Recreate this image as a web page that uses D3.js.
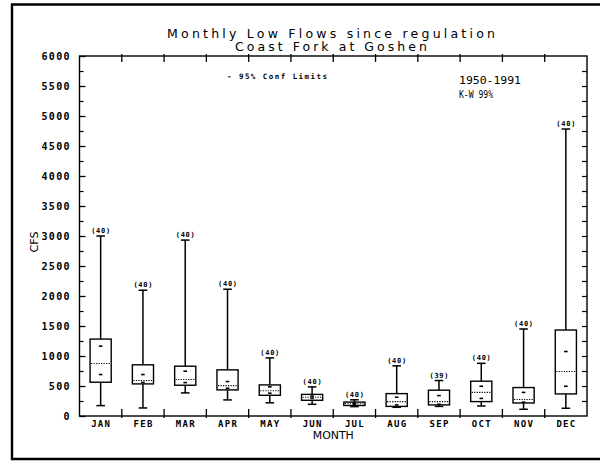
<!DOCTYPE html>
<html>
<head>
<meta charset="utf-8">
<script src="https://cdn.jsdelivr.net/npm/d3@7"></script>
<style>
  body { margin: 0; background: #fff; }
  svg text { fill: #000; }
</style>
</head>
<body>
<svg id="chart" width="600" height="461"></svg>
<script>
// Monthly low-flow statistics (cfs), Coast Fork at Goshen, 1950-1991
const months      = ["JAN", "FEB", "MAR", "APR", "MAY", "JUN", "JUL", "AUG", "SEP", "OCT", "NOV", "DEC"];
const counts      = [40, 40, 40, 40, 40, 40, 40, 40, 39, 40, 40, 40];
const whiskerLow  = [173, 134, 385, 268, 220, 195, 156, 145, 160, 167, 112, 129];
const q1          = [563, 535, 513, 435, 345, 262, 175, 160, 185, 240, 217, 368];
const medians     = [875, 591, 608, 507, 420, 313, 203, 240, 240, 393, 276, 741];
const q3          = [1282, 853, 830, 769, 518, 360, 232, 373, 430, 580, 474, 1433];
const whiskerHigh = [3000, 2096, 2932, 2113, 968, 485, 270, 836, 591, 878, 1450, 4783];
const confLow     = [691, 560, 557, 463, 380, 295, 190, 184, 195, 293, 230, 496];
const confHigh    = [1165, 691, 747, 574, 487, 330, 215, 313, 340, 496, 393, 1075];

const yLabelTicks = d3.range(0, 6001, 500);
const yMinorTicks = d3.range(250, 6000, 500);
const yRightTicks = d3.range(250, 6000, 250);

const titleLines = ["Monthly Low Flows since regulation", "Coast Fork at Goshen"];
const legendText = "- 95% Conf Limits";
const noteLines  = ["1950-1991", "K-W 99%"];

const svg = d3.select("#chart");
const plotL = 79.5, plotR = 587, plotT = 56, plotB = 416;

const x = d3.scaleBand().domain(months).range([plotL, plotR]).padding(0);
const y = d3.scaleLinear().domain([0, 6000]).range([plotB, plotT]);

const mono = "'DejaVu Sans Mono', monospace";
const sans = "'DejaVu Sans', sans-serif";

// page frame (open on the right)
svg.append("path")
  .attr("d", `M600,4.5 H12 V459 H600`)
  .attr("fill", "none").attr("stroke", "#000").attr("stroke-width", 2.4);

// plot frame
svg.append("rect")
  .attr("x", plotL).attr("y", plotT)
  .attr("width", plotR - plotL).attr("height", plotB - plotT)
  .attr("fill", "none").attr("stroke", "#000").attr("stroke-width", 1.4);

// left axis: labelled ticks every 500, minor ticks in between
const yAxisMajor = svg.append("g")
  .attr("transform", `translate(${plotL},0)`)
  .call(d3.axisLeft(y).tickValues(yLabelTicks).tickSize(-6).tickPadding(10).tickFormat(d3.format("d")));
yAxisMajor.select(".domain").remove();
yAxisMajor.selectAll("line").attr("stroke-width", 1.3);
yAxisMajor.selectAll("text")
  .attr("font-family", mono).attr("font-weight", "bold")
  .attr("font-size", 10).attr("letter-spacing", 1.3)
  .attr("dx", 1.3).attr("dy", "0.35em");

const yAxisMinor = svg.append("g")
  .attr("transform", `translate(${plotL},0)`)
  .call(d3.axisLeft(y).tickValues(yMinorTicks).tickSize(-4).tickFormat(""));
yAxisMinor.select(".domain").remove();
yAxisMinor.selectAll("line").attr("stroke-width", 1.2);

// right axis: inward ticks every 250
const yAxisRight = svg.append("g")
  .attr("transform", `translate(${plotR},0)`)
  .call(d3.axisRight(y).tickValues(yRightTicks).tickSize(-5).tickFormat(""));
yAxisRight.select(".domain").remove();
yAxisRight.selectAll("line").attr("stroke-width", 1.2);

// month boundary ticks on top and bottom edges
const edges = months.slice(1).map(m => x(m));
svg.append("g").selectAll("line").data(edges).join("line")
  .attr("x1", d => d).attr("x2", d => d)
  .attr("y1", plotT - 2).attr("y2", plotT + 6)
  .attr("stroke", "#000").attr("stroke-width", 1.3);
svg.append("g").selectAll("line").data(edges).join("line")
  .attr("x1", d => d).attr("x2", d => d)
  .attr("y1", plotB - 7).attr("y2", plotB + 2)
  .attr("stroke", "#000").attr("stroke-width", 1.3);

// month labels
svg.append("g").selectAll("text").data(months).join("text")
  .attr("x", d => x(d) + x.bandwidth() / 2 + 0.6)
  .attr("y", 426.5)
  .attr("text-anchor", "middle")
  .attr("font-family", mono).attr("font-weight", "bold")
  .attr("font-size", 9).attr("letter-spacing", 1.3)
  .text(d => d);

// axis titles
svg.append("text")
  .attr("x", (plotL + plotR) / 2).attr("y", 438.5)
  .attr("text-anchor", "middle")
  .attr("font-family", sans).attr("font-size", 10.5)
  .attr("textLength", 41).attr("lengthAdjust", "spacingAndGlyphs")
  .text("MONTH");

svg.append("text")
  .attr("transform", "translate(38,242) rotate(-90)")
  .attr("text-anchor", "middle")
  .attr("font-family", sans).attr("font-size", 10)
  .attr("textLength", 21).attr("lengthAdjust", "spacingAndGlyphs")
  .text("CFS");

// title
svg.append("text")
  .attr("x", 167).attr("y", 37.5)
  .attr("font-family", sans).attr("font-size", 12.5)
  .attr("textLength", 328).attr("lengthAdjust", "spacing")
  .text(titleLines[0]);
svg.append("text")
  .attr("x", 235).attr("y", 51)
  .attr("font-family", sans).attr("font-size", 12.5)
  .attr("textLength", 192).attr("lengthAdjust", "spacing")
  .text(titleLines[1]);

// legend and notes
svg.append("text")
  .attr("x", 227).attr("y", 78.5)
  .attr("font-family", mono).attr("font-weight", "bold").attr("font-size", 7.5)
  .attr("textLength", 100).attr("lengthAdjust", "spacing")
  .text(legendText);
svg.append("text")
  .attr("x", 459).attr("y", 84)
  .attr("font-family", mono).attr("font-size", 10)
  .attr("textLength", 62).attr("lengthAdjust", "spacingAndGlyphs")
  .text(noteLines[0]);
svg.append("text")
  .attr("x", 459).attr("y", 98)
  .attr("font-family", mono).attr("font-size", 10)
  .attr("textLength", 34).attr("lengthAdjust", "spacingAndGlyphs")
  .text(noteLines[1]);

// box plots
const boxes = months.map((m, i) => ({
  m, n: counts[i], lo: whiskerLow[i], q1: q1[i], med: medians[i],
  q3: q3[i], hi: whiskerHigh[i], cl: confLow[i], ch: confHigh[i]
}));

const g = svg.append("g").attr("stroke", "#000").attr("fill", "none");
const bw = x.bandwidth() / 2;
const cx = d => x(d.m) + x.bandwidth() / 2;
const capW = 4.3, confW = 1.8;

const b = g.selectAll("g.box").data(boxes).join("g").attr("class", "box");

// whiskers
b.append("line").attr("x1", cx).attr("x2", cx)
  .attr("y1", d => y(d.q3)).attr("y2", d => y(d.hi)).attr("stroke-width", 1.5);
b.append("line").attr("x1", cx).attr("x2", cx)
  .attr("y1", d => y(d.q1)).attr("y2", d => y(d.lo)).attr("stroke-width", 1.5);
b.append("line").attr("x1", d => cx(d) - capW).attr("x2", d => cx(d) + capW)
  .attr("y1", d => y(d.hi)).attr("y2", d => y(d.hi)).attr("stroke-width", 1.5);
b.append("line").attr("x1", d => cx(d) - capW).attr("x2", d => cx(d) + capW)
  .attr("y1", d => y(d.lo)).attr("y2", d => y(d.lo)).attr("stroke-width", 1.5);

// interquartile box
b.append("rect")
  .attr("x", d => cx(d) - bw / 2).attr("width", bw)
  .attr("y", d => y(d.q3)).attr("height", d => y(d.q1) - y(d.q3))
  .attr("fill", "#fff").attr("stroke-width", 1.4);

// median (dotted)
b.append("line")
  .attr("x1", d => cx(d) - bw / 2 + 1).attr("x2", d => cx(d) + bw / 2 - 1)
  .attr("y1", d => y(d.med)).attr("y2", d => y(d.med))
  .attr("stroke-width", 1.1).attr("stroke-dasharray", "1.2,1.3");

// 95% confidence limits on the median
b.append("line")
  .attr("x1", d => cx(d) - confW).attr("x2", d => cx(d) + confW)
  .attr("y1", d => y(d.ch)).attr("y2", d => y(d.ch)).attr("stroke-width", 1.6);
b.append("line")
  .attr("x1", d => cx(d) - confW).attr("x2", d => cx(d) + confW)
  .attr("y1", d => y(d.cl)).attr("y2", d => y(d.cl)).attr("stroke-width", 1.6);

// sample counts
svg.append("g").selectAll("text").data(boxes).join("text")
  .attr("x", d => cx(d)).attr("y", d => y(d.hi) - 3)
  .attr("text-anchor", "middle")
  .attr("font-family", mono).attr("font-weight", "bold").attr("font-size", 7)
  .attr("textLength", 19).attr("lengthAdjust", "spacing")
  .text(d => `(${d.n})`);
</script>
</body>
</html>
